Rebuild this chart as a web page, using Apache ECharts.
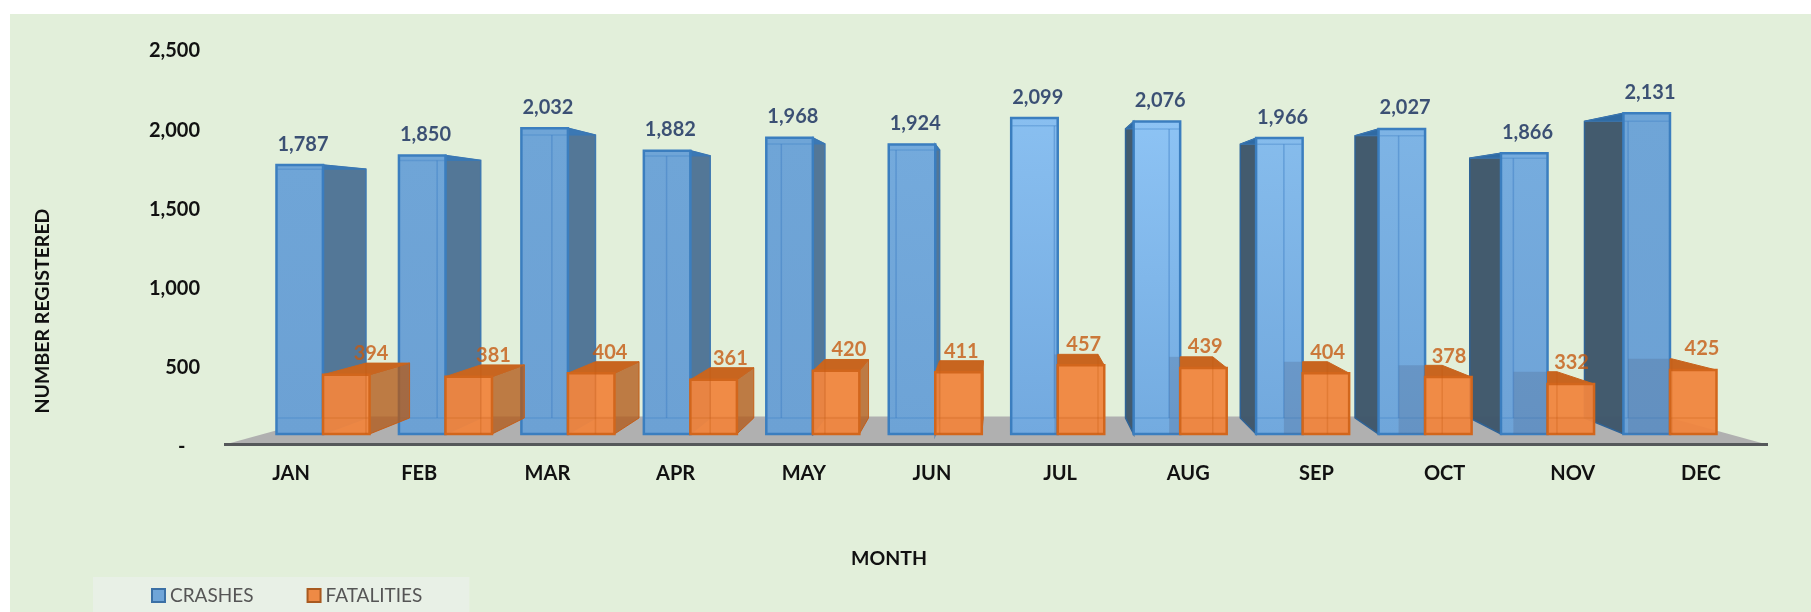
<!DOCTYPE html>
<html><head><meta charset="utf-8">
<script src="https://cdn.jsdelivr.net/npm/echarts@6/dist/echarts.min.js"></script>
<style>html,body{margin:0;padding:0;background:#fff}#c{width:1811px;height:612px}</style>
</head><body><div id="c"></div>
<script>
const months = ['JAN','FEB','MAR','APR','MAY','JUN','JUL','AUG','SEP','OCT','NOV','DEC'];
const crashes = [1787,1850,2032,1882,1968,1924,2099,2076,1966,2027,1866,2131];
const fatalities = [394,381,404,361,420,411,457,439,404,378,332,425];
const fatalityLabelShift = [25,25,19,17,13,3,3,2,2,1,1,9];

const FONT = 'Lato, "Open Sans", sans-serif';
const VX = 1005, VY = 220, CX = 0.063, CY = 0.075;
const bx = x => x + CX * (VX - x);
const by = y => y + CY * (VY - y);
const mix = (a, b, t) => a.map((v, i) => Math.round(v + (b[i] - v) * t));
const rgb = c => `rgb(${c[0]},${c[1]},${c[2]})`;

function poly(points, fill, stroke, lw) {
  return {type:'polygon', shape:{points}, style:{fill, stroke:stroke||null, lineWidth:lw||0}, silent:true};
}
function line(x1,y1,x2,y2,stroke,lw) {
  return {type:'line', shape:{x1,y1,x2,y2}, style:{stroke, lineWidth:lw||1}, silent:true};
}

function crashItem(params, api) {
  const i = api.value(0), v = api.value(1);
  const c = api.coord([i, v]), o = api.coord([i, 0]);
  const w = api.size([1,0])[0] * 0.38;
  const x0 = c[0]-w, x1 = c[0], yt = c[1], yb = o[1];
  const d = x0 - 1060;
  const near = Math.max(0, 1 - (d < 0 ? -d / 200 : d / 560));
  const topCol = mix([111,165,215],[146,200,248],near);
  const botCol = mix([108,161,212],[116,172,226],near);
  const ch = [];
  if (x1 < VX) {
    ch.push(poly([[x1,yt],[bx(x1),by(yt)],[bx(x1),by(yb)],[x1,yb]], 'rgba(70,108,145,0.92)', '#3f78b0', 1.5));
  } else if (x0 > VX) {
    ch.push(poly([[x0,yt],[bx(x0),by(yt)],[bx(x0),by(yb)],[x0,yb]], 'rgba(62,86,106,0.97)', '#2f6396', 1.5));
  }
  ch.push(poly([[x0,yt],[x1,yt],[bx(x1),by(yt)],[bx(x0),by(yt)]], x0 > VX ? '#2f6aa3' : '#3b78b4', '#3b78b4', 1));
  ch.push({type:'rect', shape:{x:x0,y:yt,width:w,height:yb-yt}, silent:true, style:{
    fill:new echarts.graphic.LinearGradient(0,0,0,1,[{offset:0,color:rgb(topCol)},{offset:1,color:rgb(botCol)}]),
    stroke:'#3b7ebf', lineWidth:2.5}});
  const ib = x1 < VX ? bx(x0) : bx(x1);
  ch.push(line(ib,by(yt),ib,by(yb),'rgba(60,125,195,0.45)',1.5));
  ch.push(line(x0+1,by(yb),x1-1,by(yb),'rgba(60,125,195,0.35)',1.5));
  ch.push(line(x0+1,by(yt),x1-1,by(yt),'rgba(60,125,195,0.35)',1.5));
  return {type:'group', children:ch};
}

function fatalityItem(params, api) {
  const i = api.value(0), v = api.value(1);
  const c = api.coord([i, v]), o = api.coord([i, 0]);
  const w = api.size([1,0])[0] * 0.38;
  const x0 = c[0], x1 = c[0]+w, yt = c[1], yb = o[1];
  const ch = [];
  if (x1 < VX) {
    ch.push(poly([[x1,yt],[bx(x1),by(yt)],[bx(x1),by(yb)],[x1,yb]], 'rgba(178,90,26,0.78)', 'rgba(197,90,17,0.9)', 1));
    ch.push(poly([[x0,yt],[x1,yt],[bx(x1),by(yt)],[bx(x0),by(yt)]], '#c8651f', '#c8651f', 1));
  } else {
    if (x0 > VX) {
      ch.push({type:'rect', silent:true, shape:{x:bx(x0),y:by(yt),width:x0-bx(x0),height:yb-by(yt)}, style:{fill:'rgba(80,110,150,0.32)'}});
    }
    const bl = Math.max(x0, bx(x0));
    ch.push(poly([[x0,yt],[x1,yt],[bx(x1),by(yt)],[bl,by(yt)]], '#c8651f', '#c8651f', 1));
  }
  ch.push({type:'rect', shape:{x:x0,y:yt,width:w,height:yb-yt}, silent:true,
    style:{fill:'rgba(240,133,62,0.95)', stroke:'#d2661c', lineWidth:2.5}});
  const ib = x1 < VX ? bx(x0) : bx(x1);
  ch.push(line(ib,by(yt),ib,yb,'rgba(197,90,17,0.3)',1.5));
  ch.push(line(x0+1,by(yb),x1-1,by(yb),'rgba(197,90,17,0.25)',1.5));
  return {type:'group', children:ch};
}

function floorItem(params) {
  const s = params.coordSys;
  const l = s.x, r = s.x + s.width, b = s.y + s.height;
  return {type:'group', children:[
    poly([[l-2,b],[l+100,b-28],[r-100,b-28],[r+2,b]], '#b0b0b0'),
    line(l-3,b,r+3,b,'#55585a',3)
  ]};
}

const titleStyle = {fontFamily:FONT, fontWeight:'bold', fontSize:19.5, fill:'#111', textAlign:'center', textVerticalAlign:'middle'};

const option = {
  animation:false,
  backgroundColor:'#ffffff',
  graphic:[
    {type:'rect', z:-10, shape:{x:10,y:14,width:1801,height:598}, style:{fill:'#e2efda'}, silent:true},
    {type:'text', x:889, y:559, silent:true, style:Object.assign({text:'MONTH'}, titleStyle)},
    {type:'text', x:43, y:311, rotation:Math.PI/2, silent:true, style:Object.assign({text:'NUMBER REGISTERED'}, titleStyle)}
  ],
  grid:[
    {left:206, top:51, width:10, height:396},
    {left:227, top:0, width:1538, height:444.4},
    {left:261.8, top:57.75, width:1469.4, height:376.25}
  ],
  xAxis:[
    {gridIndex:0, type:'category', data:months, show:false},
    {gridIndex:1, type:'category', data:months,
     axisLine:{show:false}, axisTick:{show:false},
     axisLabel:{fontFamily:FONT,fontWeight:'bold',fontSize:20,color:'#111',margin:19}},
    {gridIndex:2, type:'category', data:months, show:false}
  ],
  yAxis:[
    {gridIndex:0, type:'value', min:0, max:2500, interval:500,
     axisLine:{show:false}, axisTick:{show:false}, splitLine:{show:false},
     axisLabel:{fontFamily:FONT,fontWeight:'bold',fontSize:20,color:'#111',margin:6,
       formatter:v => v === 0 ? '-   ' : echarts.format.addCommas(v)}},
    {gridIndex:1, type:'value', min:0, max:1, show:false},
    {gridIndex:2, type:'value', min:0, max:2500, interval:500, show:false}
  ],
  legend:{
    left:93, top:577, padding:[9,47,9,58], itemGap:53, itemWidth:13, itemHeight:13,
    backgroundColor:'#e8f0e6', selectedMode:false,
    textStyle:{fontFamily:FONT,fontSize:19,color:'#555'},
    data:[
      {name:'CRASHES', icon:'rect', itemStyle:{color:'#6fa5d8',borderColor:'#3b70a5',borderWidth:2}},
      {name:'FATALITIES', icon:'rect', itemStyle:{color:'#ee8a45',borderColor:'#a85a20',borderWidth:2}}
    ]
  },
  series:[
    {type:'custom', name:'floor', xAxisIndex:1, yAxisIndex:1, z:1, silent:true, renderItem:floorItem, data:[[0,0]]},
    {type:'custom', name:'CRASHES', xAxisIndex:2, yAxisIndex:2, z:2, renderItem:crashItem,
     encode:{x:0,y:1}, data:crashes.map((v,i)=>[i,v])},
    {type:'custom', name:'FATALITIES', xAxisIndex:2, yAxisIndex:2, z:3, renderItem:fatalityItem,
     encode:{x:0,y:1}, data:fatalities.map((v,i)=>[i,v])},
    {type:'scatter', name:'crash labels', xAxisIndex:2, yAxisIndex:2, z:5, symbolSize:0, silent:true,
     data:crashes.map((v,i)=>[i,v]),
     label:{show:true, position:'top', distance:11, offset:[-20,0], fontFamily:FONT, fontWeight:'bold', fontSize:20, color:'#12285a',
       formatter:p => echarts.format.addCommas(p.value[1])}},
    {type:'scatter', name:'fatality labels', xAxisIndex:2, yAxisIndex:2, z:5, symbolSize:0, silent:true,
     data:fatalities.map((v,i)=>({value:[i,v], label:{offset:[23+fatalityLabelShift[i],0]}})),
     label:{show:true, position:'top', distance:11, fontFamily:FONT, fontWeight:'bold', fontSize:20, color:'#c55a11',
       formatter:p => String(p.value[1])}}
  ]
};
echarts.init(document.getElementById('c'), null, {renderer:'canvas'}).setOption(option);
</script></body></html>
